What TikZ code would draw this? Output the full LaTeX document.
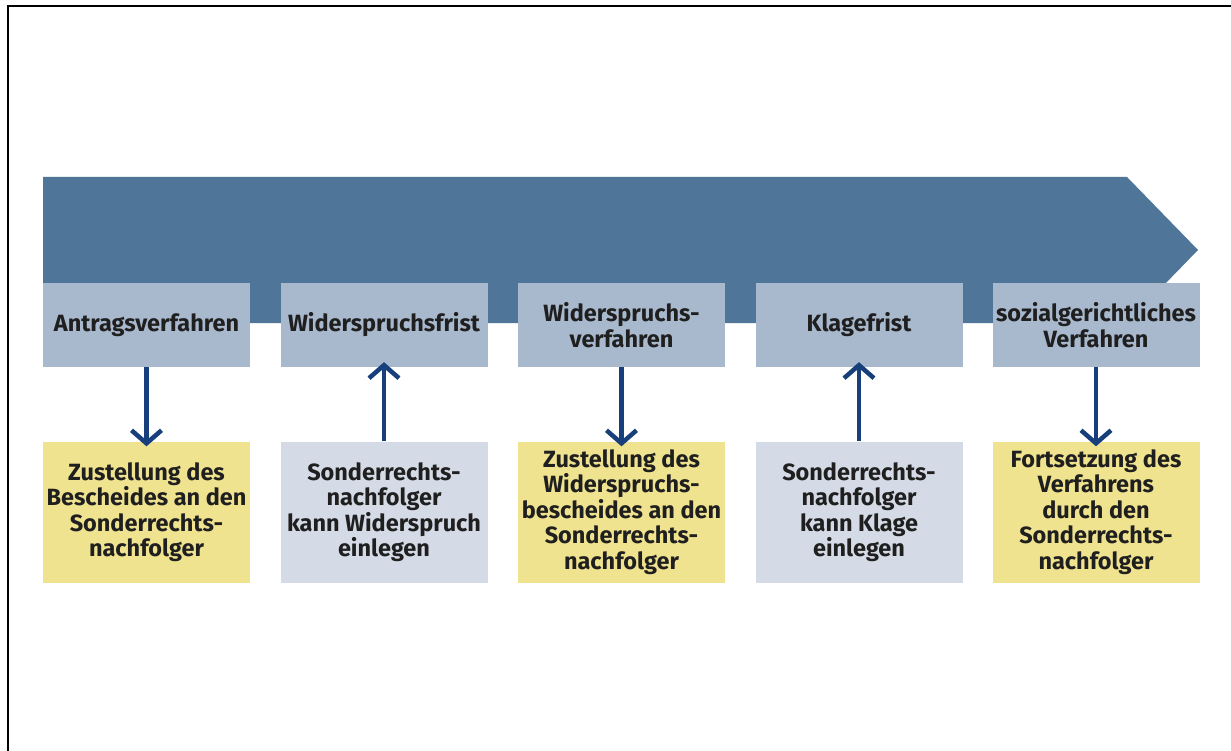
\documentclass[tikz,border=0pt]{standalone}
\usepackage{fontspec}
\setmainfont{Fira Sans}
\usetikzlibrary{arrows.meta}
\definecolor{band}{HTML}{4F7598}
\definecolor{topbox}{HTML}{A8B8CD}
\definecolor{yel}{HTML}{F0E38F}
\definecolor{grey}{HTML}{D5DBE6}
\definecolor{navy}{HTML}{173F7C}
\tikzset{
  box/.style={fill=topbox, minimum width=207pt, minimum height=84pt, inner sep=0pt, align=center,
    font=\fontsize{23.5}{26}\selectfont\bfseries, text=black!88},
  lbox/.style={minimum width=207pt, minimum height=141pt, inner sep=0pt, align=center,
    font=\fontsize{23.5}{25.5}\selectfont\bfseries, text=black!88},
  conn/.style={draw=navy, line width=4.5pt, -{Straight Barb[length=13pt,width=30pt,line width=4.5pt]}}
}
\begin{document}
\begin{tikzpicture}[x=1pt,y=-1pt]
\useasboundingbox (0,0) rectangle (1231,751);
\fill[white] (0,0) rectangle (1231,751);
\draw[line width=2.6pt] (8,751) -- (8,6) -- (1231,6);
\fill[band] (43,177) -- (1127,177) -- (1198,250) -- (1127,323) -- (43,323) -- cycle;
% top boxes
\node[box] (t1) at (146.5,325) {Antragsverfahren};
\node[box] (t2) at (384,325) {Widerspruchsfrist};
\node[box] (t3) at (621.5,325) {Widerspruchs-\\verfahren};
\node[box] (t4) at (859,325) {Klagefrist};
\node[box] (t5) at (1096,325) {sozialgerichtliches\\Verfahren};
% bottom boxes
\node[lbox, fill=yel] (b1) at (146.5,512) {Zustellung des\\Bescheides an den\\Sonderrechts-\\nachfolger};
\node[lbox, fill=grey] (b2) at (384,512) {Sonderrechts-\\nachfolger\\kann Widerspruch\\einlegen};
\node[lbox, fill=yel] (b3) at (621.5,512) {Zustellung des\\Widerspruchs-\\bescheides an den\\Sonderrechts-\\nachfolger};
\node[lbox, fill=grey] (b4) at (859,512) {Sonderrechts-\\nachfolger\\kann Klage\\einlegen};
\node[lbox, fill=yel] (b5) at (1096,512) {Fortsetzung des\\Verfahrens\\durch den\\Sonderrechts-\\nachfolger};
% connectors
\draw[conn] (t1.south) -- ([yshift=-5pt]b1.north);
\draw[conn] (b2.north) -- ([yshift=5pt]t2.south);
\draw[conn] (t3.south) -- ([yshift=-5pt]b3.north);
\draw[conn] (b4.north) -- ([yshift=5pt]t4.south);
\draw[conn] (t5.south) -- ([yshift=-5pt]b5.north);
\end{tikzpicture}
\end{document}
